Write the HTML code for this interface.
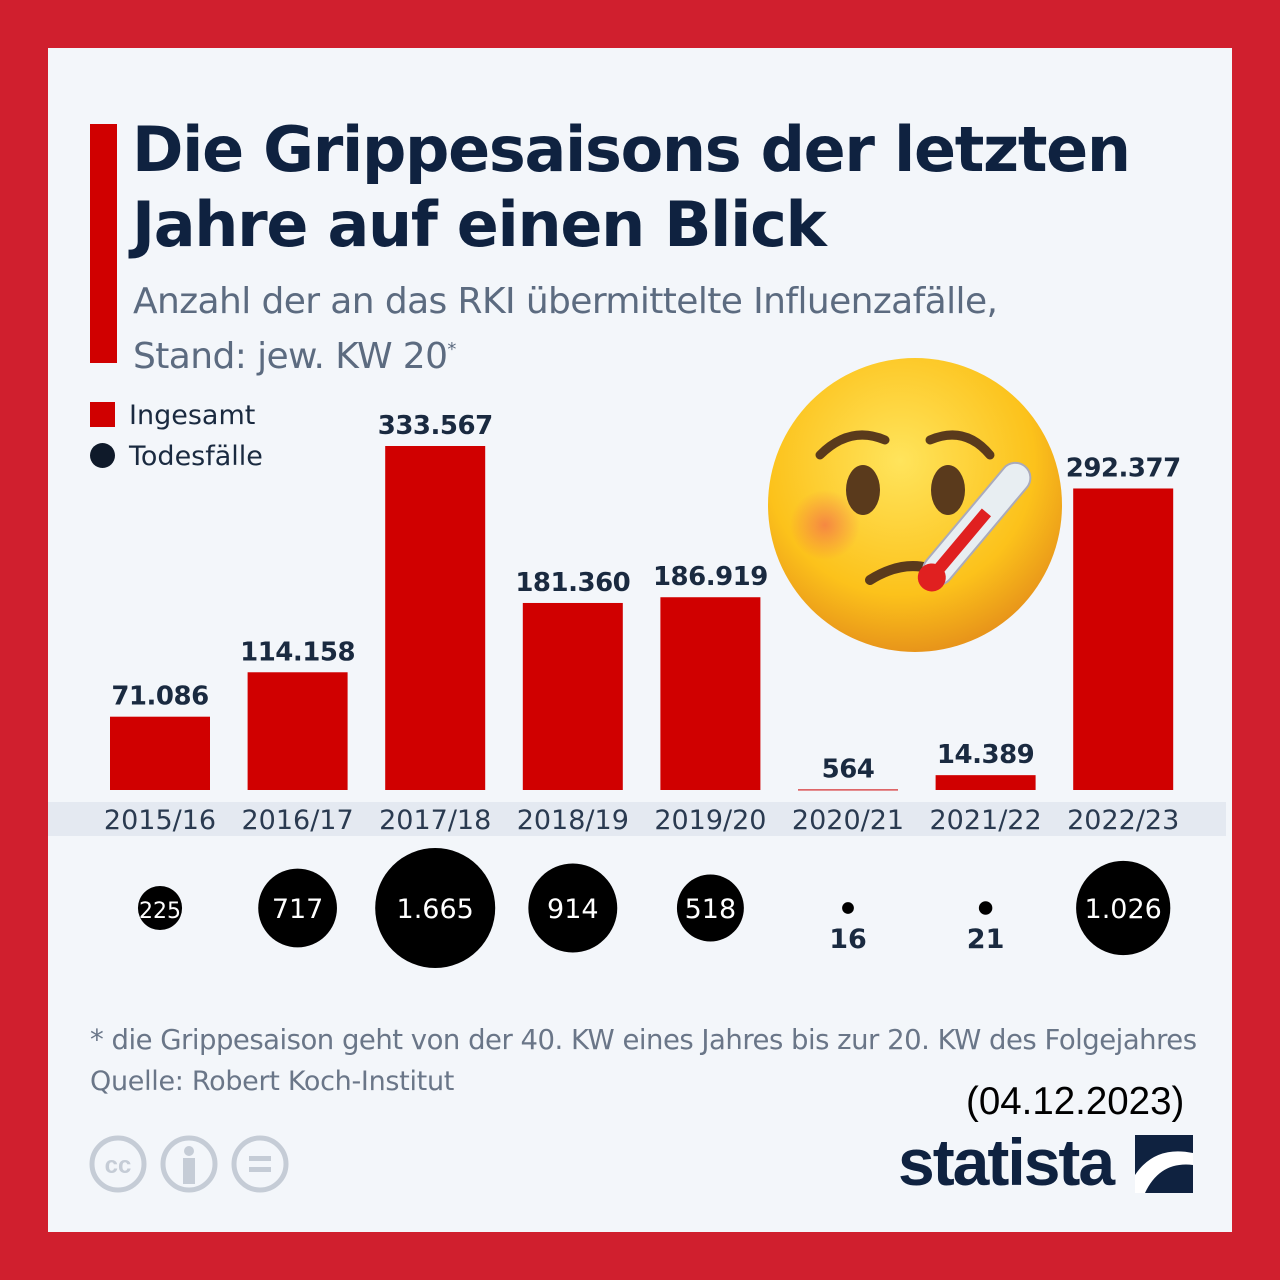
<!DOCTYPE html>
<html><head><meta charset="utf-8"><style>
body{margin:0;width:1280px;height:1280px;background:#d01f2e;font-family:"Liberation Sans","DejaVu Sans",sans-serif;overflow:hidden}
#panel{position:absolute;left:48px;top:48px;width:1184px;height:1184px;background:#f3f6fa}
.t{position:absolute;white-space:nowrap}
</style></head><body>
<div id="panel"></div>
<div class="t" style="left:90px;top:124px;width:27px;height:239px;background:#d00000"></div>
<div class="t" style="left:132px;top:112px;font-size:62px;font-weight:bold;color:#0f2240;line-height:75px;font-family:'DejaVu Sans',sans-serif;letter-spacing:-1.3px">Die Grippesaisons der letzten<br>Jahre auf einen Blick</div>
<div class="t" style="left:133px;top:278px;font-size:36px;color:#5c6b80;line-height:48px;font-family:'DejaVu Sans',sans-serif;letter-spacing:-0.6px">Anzahl der an das RKI übermittelte Influenzafälle,<br>Stand: jew. KW 20<sup style="font-size:18px">*</sup></div>
<div class="t" style="left:90px;top:400px;font-size:27px;color:#1a2a40;font-family:'DejaVu Sans',sans-serif"><span style="display:inline-block;width:25px;height:25px;background:#d00000;vertical-align:-3px;margin-right:14px"></span>Ingesamt</div>
<div class="t" style="left:90px;top:441px;font-size:27px;color:#1a2a40;font-family:'DejaVu Sans',sans-serif"><span style="display:inline-block;width:25px;height:25px;border-radius:50%;background:#0f1a2a;vertical-align:-3px;margin-right:14px"></span>Todesfälle</div>
<svg id="chart" width="1280" height="1280" style="position:absolute;left:0;top:0"></svg>
<div class="t" style="left:90px;top:1024px;font-size:27.5px;color:#6a7688;font-family:'DejaVu Sans',sans-serif;letter-spacing:-0.5px">* die Grippesaison geht von der 40. KW eines Jahres bis zur 20. KW des Folgejahres</div>
<div class="t" style="left:90px;top:1066px;font-size:27px;color:#6a7688;font-family:'DejaVu Sans',sans-serif;letter-spacing:-0.3px">Quelle: Robert Koch-Institut</div>
<div class="t" style="left:966px;top:1080px;font-size:38.5px;color:#000">(04.12.2023)</div>
<div class="t" style="left:898px;top:1124px;font-size:66px;font-weight:bold;color:#0f2240;letter-spacing:-2px">statista</div>
<svg class="t" style="left:1135px;top:1135px" width="58" height="58"><rect width="58" height="58" fill="#0f2240"/><path d="M0 40 Q20 10 58 18 L58 30 Q25 26 10 58 L0 58Z" fill="#fff"/></svg>
<svg class="t" style="left:88px;top:1133px" width="205" height="62">
<g fill="none" stroke="#c5ccd6" stroke-width="5"><circle cx="30" cy="31" r="26"/><circle cx="101" cy="31" r="26"/><circle cx="172" cy="31" r="26"/></g>
<text x="30" y="40" font-size="24" font-weight="bold" fill="#c5ccd6" text-anchor="middle">cc</text>
<circle cx="101" cy="18" r="5" fill="#c5ccd6"/><rect x="95" y="25" width="12" height="26" fill="#c5ccd6"/>
<rect x="161" y="23" width="22" height="5" fill="#c5ccd6"/><rect x="161" y="34" width="22" height="5" fill="#c5ccd6"/>
</svg>
<svg class="t" style="left:760px;top:350px" width="320" height="320">
<defs><radialGradient id="g" cx="45%" cy="35%" r="65%"><stop offset="0" stop-color="#ffe45c"/><stop offset="0.7" stop-color="#fcc21b"/><stop offset="1" stop-color="#e8951a"/></radialGradient>
<radialGradient id="ch" cx="50%" cy="50%" r="50%"><stop offset="0" stop-color="#f26b4b" stop-opacity="0.7"/><stop offset="1" stop-color="#f26b4b" stop-opacity="0"/></radialGradient></defs>
<circle cx="155" cy="155" r="147" fill="url(#g)"/>
<circle cx="65" cy="175" r="35" fill="url(#ch)"/>
<ellipse cx="103" cy="140" rx="17" ry="25" fill="#5a3a1c"/><ellipse cx="188" cy="140" rx="17" ry="25" fill="#5a3a1c"/>
<path d="M60 105 Q90 75 125 90" stroke="#5a3a1c" stroke-width="9" fill="none" stroke-linecap="round"/>
<path d="M170 90 Q205 75 230 105" stroke="#5a3a1c" stroke-width="9" fill="none" stroke-linecap="round"/>
<path d="M110 230 Q150 205 185 225" stroke="#5a3a1c" stroke-width="10" fill="none" stroke-linecap="round"/>
<g transform="rotate(40 220 170)"><rect x="205" y="100" width="30" height="150" rx="15" fill="#e8eef2" stroke="#aab" stroke-width="2"/><rect x="214" y="160" width="12" height="85" fill="#e02020"/><circle cx="220" cy="245" r="14" fill="#e02020"/></g>
</svg>
<script>
const categories=["2015/16","2016/17","2017/18","2018/19","2019/20","2020/21","2021/22","2022/23"];
const totalCases=[71086,114158,333567,181360,186919,564,14389,292377];
const totalLabels=["71.086","114.158","333.567","181.360","186.919","564","14.389","292.377"];
const deaths=[225,717,1665,914,518,16,21,1026];
const deathLabels=["225","717","1.665","914","518","16","21","1.026"];
const svg=document.getElementById('chart');
const NS='http://www.w3.org/2000/svg';
const baseY=790,plotH=344,maxV=333567;
const x=i=>160+i*137.6;
const y=v=>baseY-v/maxV*plotH;
const r=v=>60*Math.sqrt(v/1665);
function mk(t,a){const e=document.createElementNS(NS,t);for(const k in a)e.setAttribute(k,a[k]);svg.appendChild(e);return e;}
const band=mk('rect',{x:48,y:802,width:1178,height:34,fill:'#e4e9f1'});


categories.forEach((c,i)=>{
 const top=y(totalCases[i]);
 const b=mk('rect',{x:x(i)-50,y:top,width:100,height:Math.max(baseY-top,1),fill:'#d00000'});
 
 
 const lt=mk('text',{x:x(i),y:top-12,'text-anchor':'middle','font-size':26,'font-weight':'bold',fill:'#1a2a40','font-family':'DejaVu Sans, sans-serif','letter-spacing':'-0.5'});
 lt.textContent=totalLabels[i];
 
 
 const ct=mk('text',{x:x(i),y:829,'text-anchor':'middle','font-size':27,fill:'#2a3a50','font-family':'DejaVu Sans, sans-serif'});
 ct.textContent=c;
 
 
 const rr=r(deaths[i]);
 const ci=mk('circle',{cx:x(i),cy:908,r:rr,fill:'#000'});
 
 
 const inside=rr>20;
 const dt=mk('text',{x:x(i),y:inside?918:948,'text-anchor':'middle','font-size':inside&&rr<25?22:27,'font-weight':inside?'normal':'bold',fill:inside?'#fff':'#1a2a40','font-family':'DejaVu Sans, sans-serif'});
 dt.textContent=deathLabels[i];
 
 
});
</script>
</body></html>
